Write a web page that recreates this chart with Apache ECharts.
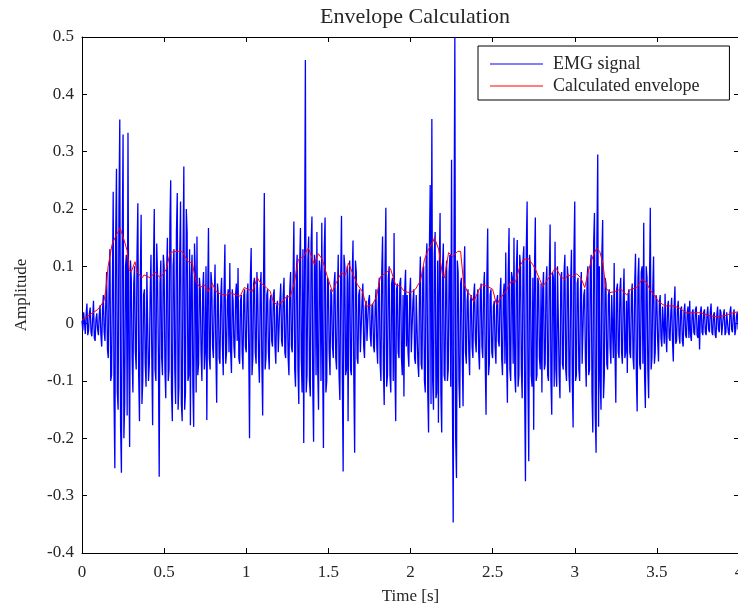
<!DOCTYPE html>
<html>
<head>
<meta charset="utf-8">
<script src="https://cdn.jsdelivr.net/npm/echarts@6/dist/echarts.min.js"></script>
<style>html,body{margin:0;padding:0;background:#fff;}#c{width:738px;height:610px;}</style>
</head>
<body>
<div id="c"></div>
<script>
// EMG signal: samples at whole 0.01 s steps (0 .. 4 s)
var emgStep = 0.01;
var emgValues = [
  0.005, 0.02, -0.018, 0.035, -0.012, 0.028, -0.022, 0.04, -0.03, 0.018,
  -0.02, 0.032, -0.04, 0.05, -0.03, 0.09, -0.06, 0.13, -0.09, 0.23,
  -0.252, 0.27, -0.15, 0.356, -0.26, 0.33, -0.14, 0.12, 0.333, -0.215,
  0.08, -0.12, 0.1, -0.08, 0.21, -0.17, 0.19, -0.1, 0.06, -0.11,
  0.09, -0.07, 0.12, -0.177, 0.2, -0.1, 0.08, -0.267, 0.11, -0.09,
  0.1, -0.13, 0.15, -0.08, 0.25, -0.17, 0.13, -0.14, 0.228, -0.11,
  0.213, -0.17, 0.274, -0.12, 0.16, -0.09, -0.177, 0.12, -0.18, 0.09,
  0.152, -0.07, 0.06, -0.1, 0.09, -0.05, -0.168, 0.167, -0.08, 0.07,
  -0.06, 0.103, -0.138, 0.05, -0.07, 0.08, -0.09, 0.138, -0.05, 0.06,
  0.106, -0.086, 0.04, -0.06, 0.07, 0.097, -0.07, 0.05, -0.08, 0.06,
  -0.05, 0.07, -0.2, 0.132, -0.06, 0.08, -0.07, 0.05, -0.103, 0.09,
  -0.16, 0.228, -0.06, 0.06, -0.08, 0.05, -0.04, 0.06, -0.07, 0.04,
  -0.05, 0.07, -0.04, 0.08, -0.06, 0.05, -0.09, 0.09, -0.05, 0.178,
  -0.11, 0.12, -0.14, 0.167, -0.12, -0.208, 0.46, -0.09, 0.152, -0.127,
  0.187, -0.206, 0.11, 0.16, -0.15, 0.09, 0.176, -0.217, 0.185, -0.1,
  0.07, -0.09, 0.05, -0.06, 0.09, -0.08, 0.12, -0.133, 0.188, -0.258,
  0.1, -0.08, -0.17, 0.11, -0.09, 0.145, -0.225, 0.09, -0.07, 0.06,
  -0.05, 0.07, -0.06, 0.04, -0.03, 0.05, -0.04, 0.035, -0.05, 0.06,
  -0.07, 0.08, -0.1, 0.152, -0.142, 0.202, -0.09, 0.1, -0.12, 0.08,
  0.158, -0.17, 0.07, -0.06, 0.08, -0.09, -0.127, 0.094, 0.05, -0.075,
  0.08, -0.05, 0.06, -0.07, 0.05, -0.093, 0.117, -0.08, 0.1, -0.12,
  0.14, -0.19, 0.242, 0.357, -0.15, 0.16, -0.12, -0.173, 0.193, -0.19,
  0.14, -0.1, 0.11, -0.08, 0.12, 0.286, -0.347, 0.5, -0.269, 0.09,
  -0.147, 0.08, -0.144, 0.135, -0.07, 0.06, -0.09, 0.05, -0.06, 0.07,
  -0.05, 0.06, -0.08, 0.07, -0.06, 0.09, -0.159, 0.166, -0.07, 0.06,
  -0.06, 0.04, -0.07, 0.05, -0.04, 0.08, -0.09, 0.07, 0.124, -0.138,
  0.167, -0.1, 0.08, 0.15, -0.12, 0.146, -0.09, 0.1, -0.13, 0.135,
  -0.275, 0.213, -0.24, 0.1, -0.11, -0.185, 0.185, -0.09, 0.07, -0.08,
  -0.12, 0.09, -0.07, 0.1, -0.1, 0.173, -0.159, 0.08, 0.143, -0.11,
  0.1, -0.13, 0.09, -0.08, 0.12, -0.1, 0.08, -0.12, 0.129, -0.181,
  0.213, -0.09, 0.08, -0.1, 0.09, -0.07, 0.06, -0.11, 0.1, -0.08,
  0.12, -0.19, 0.193, -0.225, 0.295, 0.1, -0.15, 0.181, -0.09, 0.07,
  -0.08, 0.06, -0.07, 0.05, 0.106, -0.138, 0.07, -0.06, 0.08, -0.07,
  0.096, -0.05, -0.086, 0.06, -0.06, 0.07, -0.08, 0.122, -0.153, 0.115,
  -0.08, 0.1, 0.176, -0.147, 0.08, -0.13, 0.202, -0.06, 0.117, -0.05,
  0.04, -0.066, 0.05, -0.04, 0.03, 0.052, -0.05, 0.04, -0.03, 0.045,
  -0.066, 0.065, -0.03, 0.04, -0.035, 0.03, -0.04, 0.035, -0.025, 0.03,
  0.04, -0.03, 0.025, -0.02, 0.03, -0.025, -0.045, 0.03, -0.02, 0.025,
  -0.02, 0.03, -0.015, 0.035, -0.02, 0.02, -0.025, 0.03, -0.015, 0.02,
  -0.02, 0.025, -0.015, 0.02, -0.02, 0.03, -0.015, 0.025, -0.01, 0.02,
  0.01
];
// EMG signal: samples half-way between (0.005 .. 3.995 s)
var emgHalfStepValues = [
  -0.012, 0.004, 0.015, -0.02, 0.018, -0.015, 0.01, -0.025, 0.008, -0.01,
  0.015, -0.02, 0.025, -0.015, 0.04, -0.045, 0.07, -0.1, 0.06, -0.13,
  0.15, -0.12, 0.2, -0.18, 0.14, -0.2, 0.1, -0.16, -0.05, 0.11,
  -0.06, 0.07, -0.05, 0.12, -0.09, 0.08, -0.14, 0.05, -0.07, 0.09,
  -0.1, 0.05, -0.06, 0.1, -0.08, 0.14, -0.05, 0.07, -0.06, 0.12,
  -0.08, 0.09, -0.1, 0.17, -0.12, 0.1, -0.08, 0.16, -0.15, 0.12,
  -0.14, 0.11, -0.15, 0.2, -0.1, 0.13, 0.08, -0.11, 0.14, -0.12,
  -0.09, 0.08, -0.05, 0.06, -0.08, 0.1, 0.04, -0.06, 0.09, -0.04,
  0.04, -0.05, 0.07, -0.06, 0.05, -0.04, 0.06, -0.07, 0.04, -0.05,
  -0.05, 0.06, -0.04, 0.05, -0.03, -0.06, 0.04, -0.05, 0.05, -0.04,
  0.05, -0.04, 0.08, -0.09, 0.07, -0.05, 0.09, -0.06, 0.06, -0.07,
  0.07, -0.08, 0.05, -0.05, 0.04, -0.03, 0.05, -0.04, 0.03, -0.05,
  0.04, -0.03, 0.05, -0.05, 0.04, -0.06, 0.06, -0.04, 0.07, -0.08,
  0.09, -0.08, 0.1, -0.06, 0.13, 0.1, -0.12, 0.11, -0.1, 0.14,
  -0.11, 0.12, -0.09, -0.08, 0.11, -0.1, -0.07, 0.13, -0.12, 0.08,
  -0.05, 0.06, -0.04, 0.07, -0.06, 0.05, -0.09, 0.08, -0.1, 0.12,
  -0.09, 0.1, 0.07, -0.08, 0.08, -0.1, 0.11, -0.06, 0.05, -0.05,
  0.04, -0.04, 0.03, -0.03, 0.04, -0.02, 0.03, -0.04, 0.03, -0.04,
  0.06, -0.07, 0.09, -0.08, 0.1, -0.11, 0.08, -0.09, 0.07, -0.1,
  -0.08, 0.06, -0.05, 0.07, -0.06, 0.05, 0.06, -0.04, -0.05, 0.05,
  -0.05, 0.04, -0.06, 0.05, -0.07, 0.06, -0.07, 0.09, -0.1, 0.11,
  -0.12, 0.13, -0.14, -0.1, 0.12, -0.13, 0.11, 0.09, -0.12, 0.1,
  -0.09, 0.08, -0.1, 0.09, -0.11, -0.12, 0.15, -0.2, 0.11, -0.1,
  0.07, -0.06, 0.08, -0.05, 0.04, -0.05, 0.04, -0.04, 0.05, -0.03,
  0.04, -0.05, 0.05, -0.04, 0.06, -0.07, 0.08, -0.09, 0.05, -0.05,
  0.03, -0.04, 0.04, -0.03, 0.05, -0.06, 0.05, -0.07, -0.06, 0.09,
  -0.08, 0.09, -0.07, -0.09, 0.1, -0.11, 0.12, -0.08, 0.11, -0.12,
  0.13, -0.1, 0.12, -0.09, 0.08, 0.1, -0.1, 0.08, -0.06, 0.07,
  0.06, -0.08, 0.07, -0.09, 0.08, -0.1, 0.09, -0.11, -0.08, 0.1,
  -0.09, 0.08, -0.07, 0.09, -0.08, 0.1, -0.09, 0.07, -0.1, 0.12,
  -0.1, 0.07, -0.08, 0.06, -0.07, 0.05, -0.06, 0.08, -0.09, 0.1,
  -0.12, 0.14, -0.16, 0.15, -0.18, -0.1, 0.12, -0.13, 0.08, -0.07,
  0.05, -0.04, 0.05, -0.06, -0.05, 0.06, -0.05, 0.06, -0.05, 0.04,
  -0.06, 0.04, 0.05, -0.05, 0.05, -0.06, 0.07, -0.09, 0.08, -0.07,
  0.09, -0.07, -0.09, 0.1, -0.08, 0.07, -0.08, 0.06, -0.07, 0.05,
  -0.03, 0.035, -0.025, 0.03, -0.035, -0.02, 0.03, -0.025, 0.02, -0.03,
  0.03, -0.035, 0.025, -0.02, 0.025, -0.03, 0.02, -0.02, 0.02, -0.025,
  -0.02, 0.02, -0.015, 0.025, -0.02, 0.015, 0.02, -0.015, 0.02, -0.015,
  0.015, -0.01, 0.02, -0.015, 0.015, -0.02, 0.015, -0.01, 0.025, -0.02,
  0.015, -0.02, 0.02, -0.015, 0.02, -0.01, 0.015, -0.02, 0.015, -0.01
];

// Calculated envelope: times (s) and values
var envTimes = [
  0, 0.049, 0.098, 0.134, 0.146, 0.159, 0.183, 0.201, 0.213, 0.232,
  0.256, 0.274, 0.287, 0.299, 0.323, 0.335, 0.366, 0.378, 0.415, 0.445,
  0.476, 0.512, 0.537, 0.567, 0.61, 0.646, 0.671, 0.695, 0.72, 0.744,
  0.768, 0.793, 0.817, 0.841, 0.878, 0.902, 0.939, 0.963, 0.988, 1.012,
  1.037, 1.067, 1.085, 1.122, 1.146, 1.165, 1.189, 1.22, 1.244, 1.268,
  1.293, 1.317, 1.348, 1.378, 1.39, 1.415, 1.439, 1.463, 1.494, 1.524,
  1.549, 1.579, 1.604, 1.622, 1.646, 1.677, 1.707, 1.732, 1.768, 1.793,
  1.817, 1.854, 1.878, 1.909, 1.939, 1.963, 2.0, 2.03, 2.061, 2.085,
  2.11, 2.134, 2.146, 2.171, 2.195, 2.207, 2.232, 2.256, 2.287, 2.305,
  2.323, 2.348, 2.366, 2.384, 2.409, 2.433, 2.47, 2.5, 2.524, 2.549,
  2.579, 2.61, 2.64, 2.665, 2.689, 2.72, 2.744, 2.762, 2.787, 2.805,
  2.823, 2.854, 2.884, 2.915, 2.939, 2.957, 2.988, 3.012, 3.037, 3.061,
  3.085, 3.11, 3.134, 3.152, 3.171, 3.189, 3.213, 3.244, 3.28, 3.317,
  3.341, 3.378, 3.409, 3.433, 3.457, 3.482, 3.512, 3.549, 3.598, 3.634,
  3.677, 3.72, 3.768, 3.817, 3.866, 3.915, 3.963, 4.0
];
var envValues = [
  0.006, 0.016, 0.025, 0.04, 0.06, 0.1, 0.138, 0.15, 0.147, 0.167,
  0.146, 0.128, 0.094, 0.09, 0.108, 0.09, 0.08, 0.085, 0.08, 0.09,
  0.08, 0.094, 0.124, 0.126, 0.126, 0.108, 0.106, 0.072, 0.063, 0.068,
  0.056, 0.07, 0.056, 0.052, 0.05, 0.054, 0.05, 0.048, 0.063, 0.06,
  0.056, 0.08, 0.072, 0.063, 0.056, 0.038, 0.033, 0.038, 0.047, 0.047,
  0.072, 0.112, 0.117, 0.132, 0.135, 0.103, 0.122, 0.112, 0.082, 0.056,
  0.072, 0.089, 0.085, 0.106, 0.089, 0.068, 0.056, 0.03, 0.033, 0.047,
  0.082, 0.089, 0.096, 0.068, 0.065, 0.056, 0.054, 0.06, 0.075, 0.112,
  0.13, 0.141, 0.15, 0.13, 0.085, 0.08, 0.124, 0.117, 0.126, 0.126,
  0.072, 0.054, 0.05, 0.038, 0.054, 0.068, 0.065, 0.06, 0.033, 0.045,
  0.056, 0.073, 0.073, 0.1, 0.112, 0.113, 0.103, 0.094, 0.077, 0.065,
  0.072, 0.085, 0.098, 0.082, 0.077, 0.085, 0.082, 0.087, 0.08, 0.063,
  0.094, 0.117, 0.132, 0.126, 0.106, 0.063, 0.054, 0.056, 0.06, 0.05,
  0.06, 0.063, 0.077, 0.073, 0.06, 0.05, 0.038, 0.031, 0.031, 0.028,
  0.019, 0.019, 0.019, 0.014, 0.012, 0.014, 0.019, 0.021
];

var xTickInterval = 0.5;
var yTickInterval = 0.1;
var seriesNames = ['EMG signal', 'Calculated envelope'];

// interleave the two sample sets in time order
var emgData = [];
for (var i = 0; i < emgValues.length; i++) {
  emgData.push([+(i * emgStep).toFixed(3), emgValues[i]]);
  if (i < emgHalfStepValues.length) {
    emgData.push([+((i + 0.5) * emgStep).toFixed(3), emgHalfStepValues[i]]);
  }
}
var envData = envTimes.map(function (t, i) { return [t, envValues[i]]; });

var FONT = 'Liberation Serif';
var TXT = '#262626';

var chart = echarts.init(document.getElementById('c'), null, { renderer: 'canvas' });

function xAx(pos, show) {
  return {
    type: 'value', position: pos, min: 0, max: 4, interval: xTickInterval,
    axisLine: { show: true, onZero: false, lineStyle: { color: '#000', width: 1 } },
    axisTick: { show: true, inside: true, length: 5, lineStyle: { color: '#000' } },
    axisLabel: { show: show, color: TXT, fontFamily: FONT, fontSize: 17, margin: 11 },
    splitLine: { show: false },
    name: show ? 'Time [s]' : '', nameLocation: 'middle', nameGap: 35,
    nameTextStyle: { color: TXT, fontFamily: FONT, fontSize: 17 }
  };
}
function yAx(pos, show) {
  return {
    type: 'value', position: pos, min: -0.4, max: 0.5, interval: yTickInterval,
    axisLine: { show: true, onZero: false, lineStyle: { color: '#000', width: 1 } },
    axisTick: { show: true, inside: true, length: 5, lineStyle: { color: '#000' } },
    axisLabel: { show: show, color: TXT, fontFamily: FONT, fontSize: 17, margin: 8,
      formatter: function (v) { return String(Math.round(v * 10) / 10); } },
    splitLine: { show: false },
    name: show ? 'Amplitude' : '', nameLocation: 'middle', nameGap: 52,
    nameTextStyle: { color: TXT, fontFamily: FONT, fontSize: 17 }
  };
}

chart.setOption({
  animation: false,
  backgroundColor: '#fff',
  title: {
    text: 'Envelope Calculation', left: 410, top: 1, textAlign: 'center',
    textStyle: { color: TXT, fontFamily: FONT, fontSize: 22, fontWeight: 'normal' }
  },
  grid: { left: 82, right: -1, top: 37, bottom: 57, containLabel: false, outerBoundsMode: 'none' },
  xAxis: [xAx('bottom', true), xAx('top', false)],
  yAxis: [yAx('left', true), yAx('right', false)],
  legend: {
    data: seriesNames, orient: 'vertical', left: 478, top: 46,
    backgroundColor: '#fff', borderColor: '#000', borderWidth: 1, borderRadius: 0,
    padding: [9, 30, 5, 12], itemGap: 4, itemWidth: 53, itemHeight: 1,
    icon: 'rect',
    textStyle: { color: TXT, fontFamily: FONT, fontSize: 18, padding: [0, 0, 0, 5] }
  },
  series: [
    { name: seriesNames[0], type: 'line', data: emgData, showSymbol: false, symbol: 'none',
      lineStyle: { color: '#0000ff', width: 1.3 }, itemStyle: { color: '#0000ff' }, clip: true, z: 2 },
    { name: seriesNames[1], type: 'line', data: envData, showSymbol: false, symbol: 'none',
      lineStyle: { color: '#ff0000', width: 1 }, itemStyle: { color: '#ff0000' }, clip: true, z: 3 }
  ]
});
</script>
</body>
</html>
